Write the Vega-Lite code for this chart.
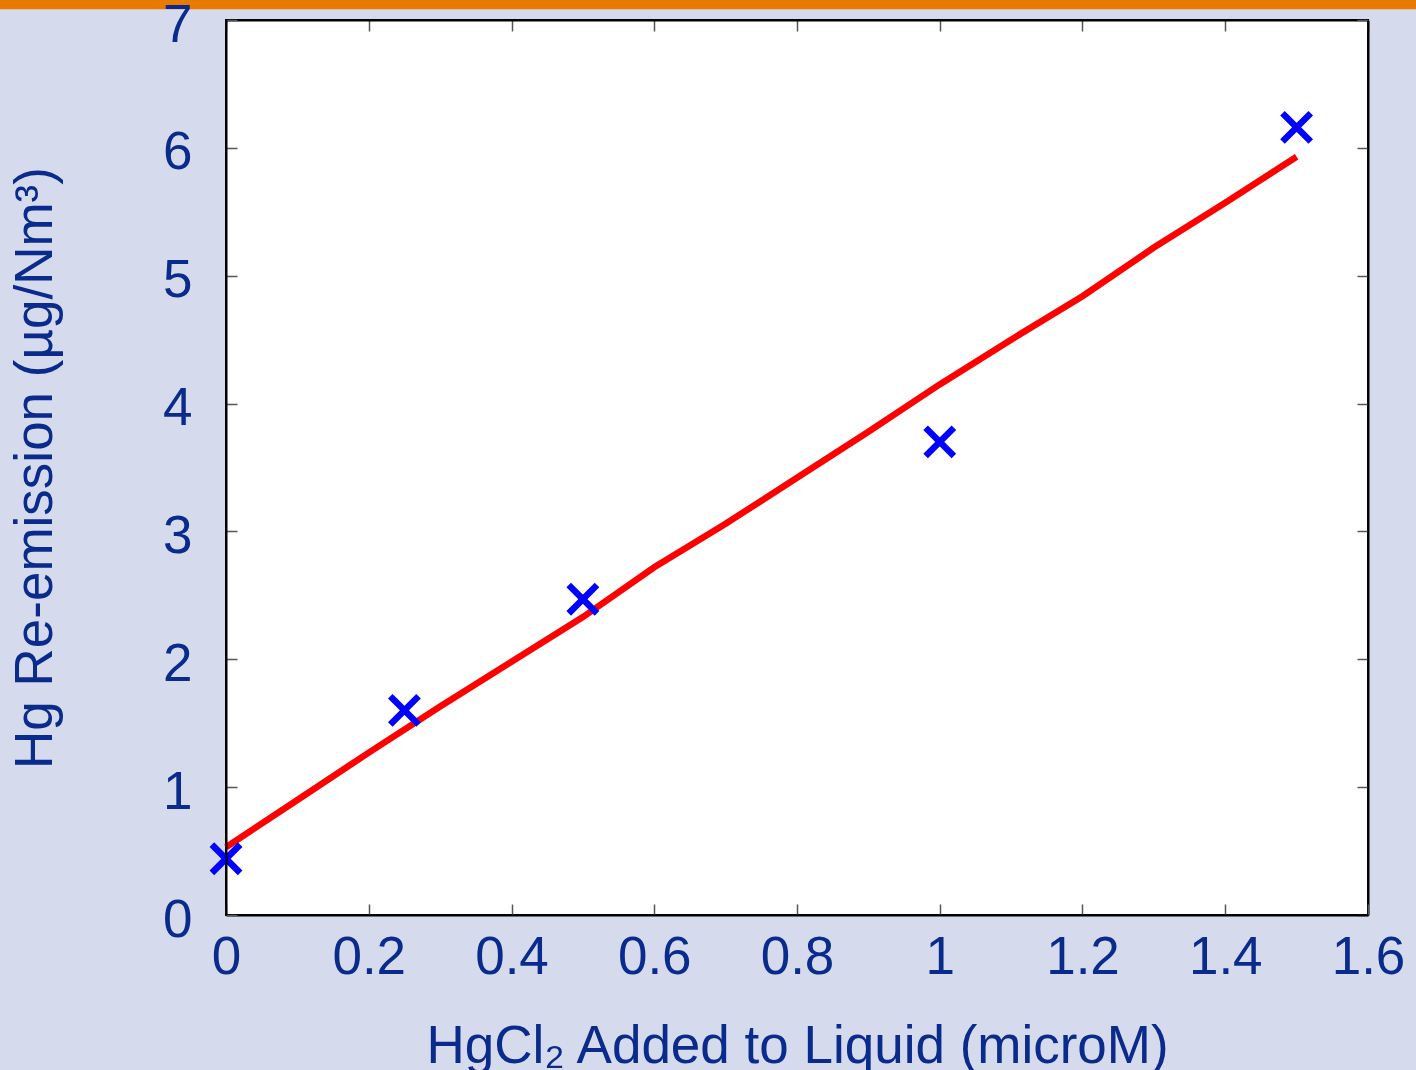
{
  "$schema": "https://vega.github.io/schema/vega-lite/v6.json",
  "width": 1142,
  "height": 895,
  "autosize": {"type": "none"},
  "padding": {"left": 226, "top": 20, "right": 48, "bottom": 155},
  "background": "#d5dbec",
  "datasets": {
    "measured": [
      {"hgcl2": 0.0, "reemission": 0.44},
      {"hgcl2": 0.25, "reemission": 1.6},
      {"hgcl2": 0.5, "reemission": 2.47},
      {"hgcl2": 1.0, "reemission": 3.7},
      {"hgcl2": 1.5, "reemission": 6.16}
    ],
    "fit": [
      {"hgcl2": 0.0, "reemission": 0.53},
      {"hgcl2": 0.1, "reemission": 0.9},
      {"hgcl2": 0.2, "reemission": 1.27},
      {"hgcl2": 0.3, "reemission": 1.63},
      {"hgcl2": 0.4, "reemission": 1.98},
      {"hgcl2": 0.5, "reemission": 2.33},
      {"hgcl2": 0.6, "reemission": 2.72},
      {"hgcl2": 0.7, "reemission": 3.06},
      {"hgcl2": 0.8, "reemission": 3.42},
      {"hgcl2": 0.9, "reemission": 3.78},
      {"hgcl2": 1.0, "reemission": 4.15},
      {"hgcl2": 1.1, "reemission": 4.5},
      {"hgcl2": 1.2, "reemission": 4.84},
      {"hgcl2": 1.3, "reemission": 5.22},
      {"hgcl2": 1.4, "reemission": 5.57},
      {"hgcl2": 1.5, "reemission": 5.93}
    ],
    "banner": [{"band": "top"}]
  },
  "layer": [
    {
      "data": {"name": "banner"},
      "mark": {"type": "rect", "color": "#e87a00", "clip": false},
      "encoding": {
        "x": {"datum": -0.4, "type": "quantitative", "scale": {"domain": [0, 1.6], "nice": false, "zero": false}, "axis": null},
        "x2": {"datum": 1.75},
        "y": {"datum": 7.3, "type": "quantitative", "scale": {"domain": [0, 7], "nice": false}, "axis": null},
        "y2": {"datum": 7.084}
      }
    },
    {
      "data": {"name": "fit"},
      "mark": {"type": "line", "color": "#ff0000", "strokeWidth": 6.5},
      "encoding": {
        "x": {
          "field": "hgcl2", "type": "quantitative",
          "scale": {"domain": [0, 1.6], "nice": false, "zero": false},
          "axis": {
            "orient": "bottom",
            "values": [0, 0.2, 0.4, 0.6, 0.8, 1, 1.2, 1.4, 1.6],
            "format": "~g",
            "title": "HgCl₂ Added to Liquid (microM)",
            "titlePadding": 36,
            "labelPadding": 27,
            "zindex": 2
          }
        },
        "y": {
          "field": "reemission", "type": "quantitative",
          "scale": {"domain": [0, 7], "nice": false},
          "axis": {
            "orient": "left",
            "values": [0, 1, 2, 3, 4, 5, 6, 7],
            "title": "Hg Re-emission (µg/Nm³)",
            "titlePadding": 100,
            "labelPadding": 45,
            "labelOffset": 5,
            "zindex": 2
          }
        }
      }
    },
    {
      "data": {"name": "measured"},
      "mark": {
        "type": "point",
        "shape": "M-1,-1L1,1M-1,1L1,-1",
        "filled": false,
        "stroke": "#0000ff",
        "strokeWidth": 6.5,
        "size": 800,
        "opacity": 1,
        "clip": false
      },
      "encoding": {
        "x": {
          "field": "hgcl2", "type": "quantitative",
          "scale": {"domain": [0, 1.6], "nice": false, "zero": false},
          "axis": {"orient": "top", "values": [0, 0.2, 0.4, 0.6, 0.8, 1, 1.2, 1.4, 1.6], "labels": false, "title": null}
        },
        "y": {
          "field": "reemission", "type": "quantitative",
          "scale": {"domain": [0, 7], "nice": false},
          "axis": {"orient": "right", "values": [0, 1, 2, 3, 4, 5, 6, 7], "labels": false, "title": null}
        }
      }
    }
  ],
  "resolve": {"axis": {"x": "independent", "y": "independent"}},
  "config": {
    "view": {"fill": "#ffffff", "stroke": "#000000", "strokeWidth": 2},
    "font": "Liberation Sans",
    "axis": {
      "grid": false,
      "domainColor": "#000000",
      "domainWidth": 2,
      "tickColor": "#555555",
      "tickWidth": 1.5,
      "tickSize": -11,
      "labelFont": "Liberation Sans",
      "labelFontSize": 53,
      "labelColor": "#0a2a8c",
      "labelFlush": false,
      "labelOverlap": false,
      "titleFont": "Liberation Sans",
      "titleFontSize": 53,
      "titleFontWeight": "normal",
      "titleColor": "#0a2a8c"
    }
  }
}
